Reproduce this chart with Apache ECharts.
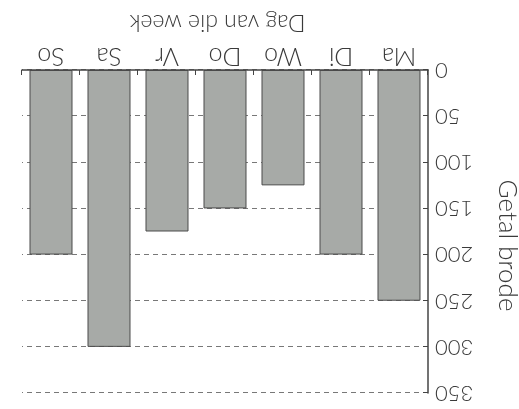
<!DOCTYPE html>
<html>
<head>
<meta charset="utf-8">
<script src="https://cdn.jsdelivr.net/npm/echarts@6/dist/echarts.min.js"></script>
<style>
html,body{margin:0;padding:0;background:#fff;overflow:hidden;}
#c{width:519px;height:409px;transform:rotate(180deg);transform-origin:50% 50%;}
</style>
</head>
<body>
<div id="c"></div>
<script>
const categories = ['Ma', 'Di', 'Wo', 'Do', 'Vr', 'Sa', 'So'];
const loaves = [250, 200, 125, 150, 175, 300, 200];
const yTicks = { min: 0, max: 350, interval: 50 };
const xTitle = 'Dag van die week';
const yTitle = 'Getal brode';

const font = 'Lato, "Open Sans", sans-serif';
const txt = '#3a3a3a';
const chart = echarts.init(document.getElementById('c'), null, { renderer: 'canvas' });
chart.setOption({
  animation: false,
  backgroundColor: '#ffffff',
  grid: { left: 91, right: 22, top: 16, bottom: 70, containLabel: false, outerBoundsMode: 'none' },
  xAxis: {
    type: 'category',
    data: categories,
    name: xTitle,
    nameLocation: 'middle',
    nameGap: 36,
    nameTextStyle: { fontFamily: font, fontWeight: 300, fontSize: 23, color: txt, padding: [0, 0, 0, 15] },
    axisLine: { show: true, lineStyle: { color: '#444', width: 1.5 } },
    axisTick: { show: true, inside: true, length: 5, lineStyle: { color: '#444' } },
    axisLabel: { fontFamily: font, fontWeight: 300, fontSize: 25, color: txt, margin: 1 },
    splitLine: { show: false }
  },
  yAxis: {
    type: 'value',
    min: yTicks.min,
    max: yTicks.max,
    interval: yTicks.interval,
    name: yTitle,
    nameLocation: 'middle',
    nameGap: 66,
    nameRotate: 90,
    nameTextStyle: { fontFamily: font, fontWeight: 300, fontSize: 26, color: txt, padding: [0, 0, 0, 28] },
    axisLine: { show: true, lineStyle: { color: '#444', width: 1.5 } },
    axisTick: { show: true, inside: true, length: 5, lineStyle: { color: '#444' } },
    axisLabel: { fontFamily: font, fontWeight: 300, fontSize: 22, color: txt, margin: 7 },
    splitLine: { show: true, lineStyle: { color: '#555', width: 0.8, type: [5, 4] } }
  },
  series: [{
    type: 'bar',
    data: loaves,
    barWidth: 43,
    itemStyle: { color: '#a7aaa7', borderColor: '#4a4a4a', borderWidth: 1 }
  }]
});
</script>
</body>
</html>
